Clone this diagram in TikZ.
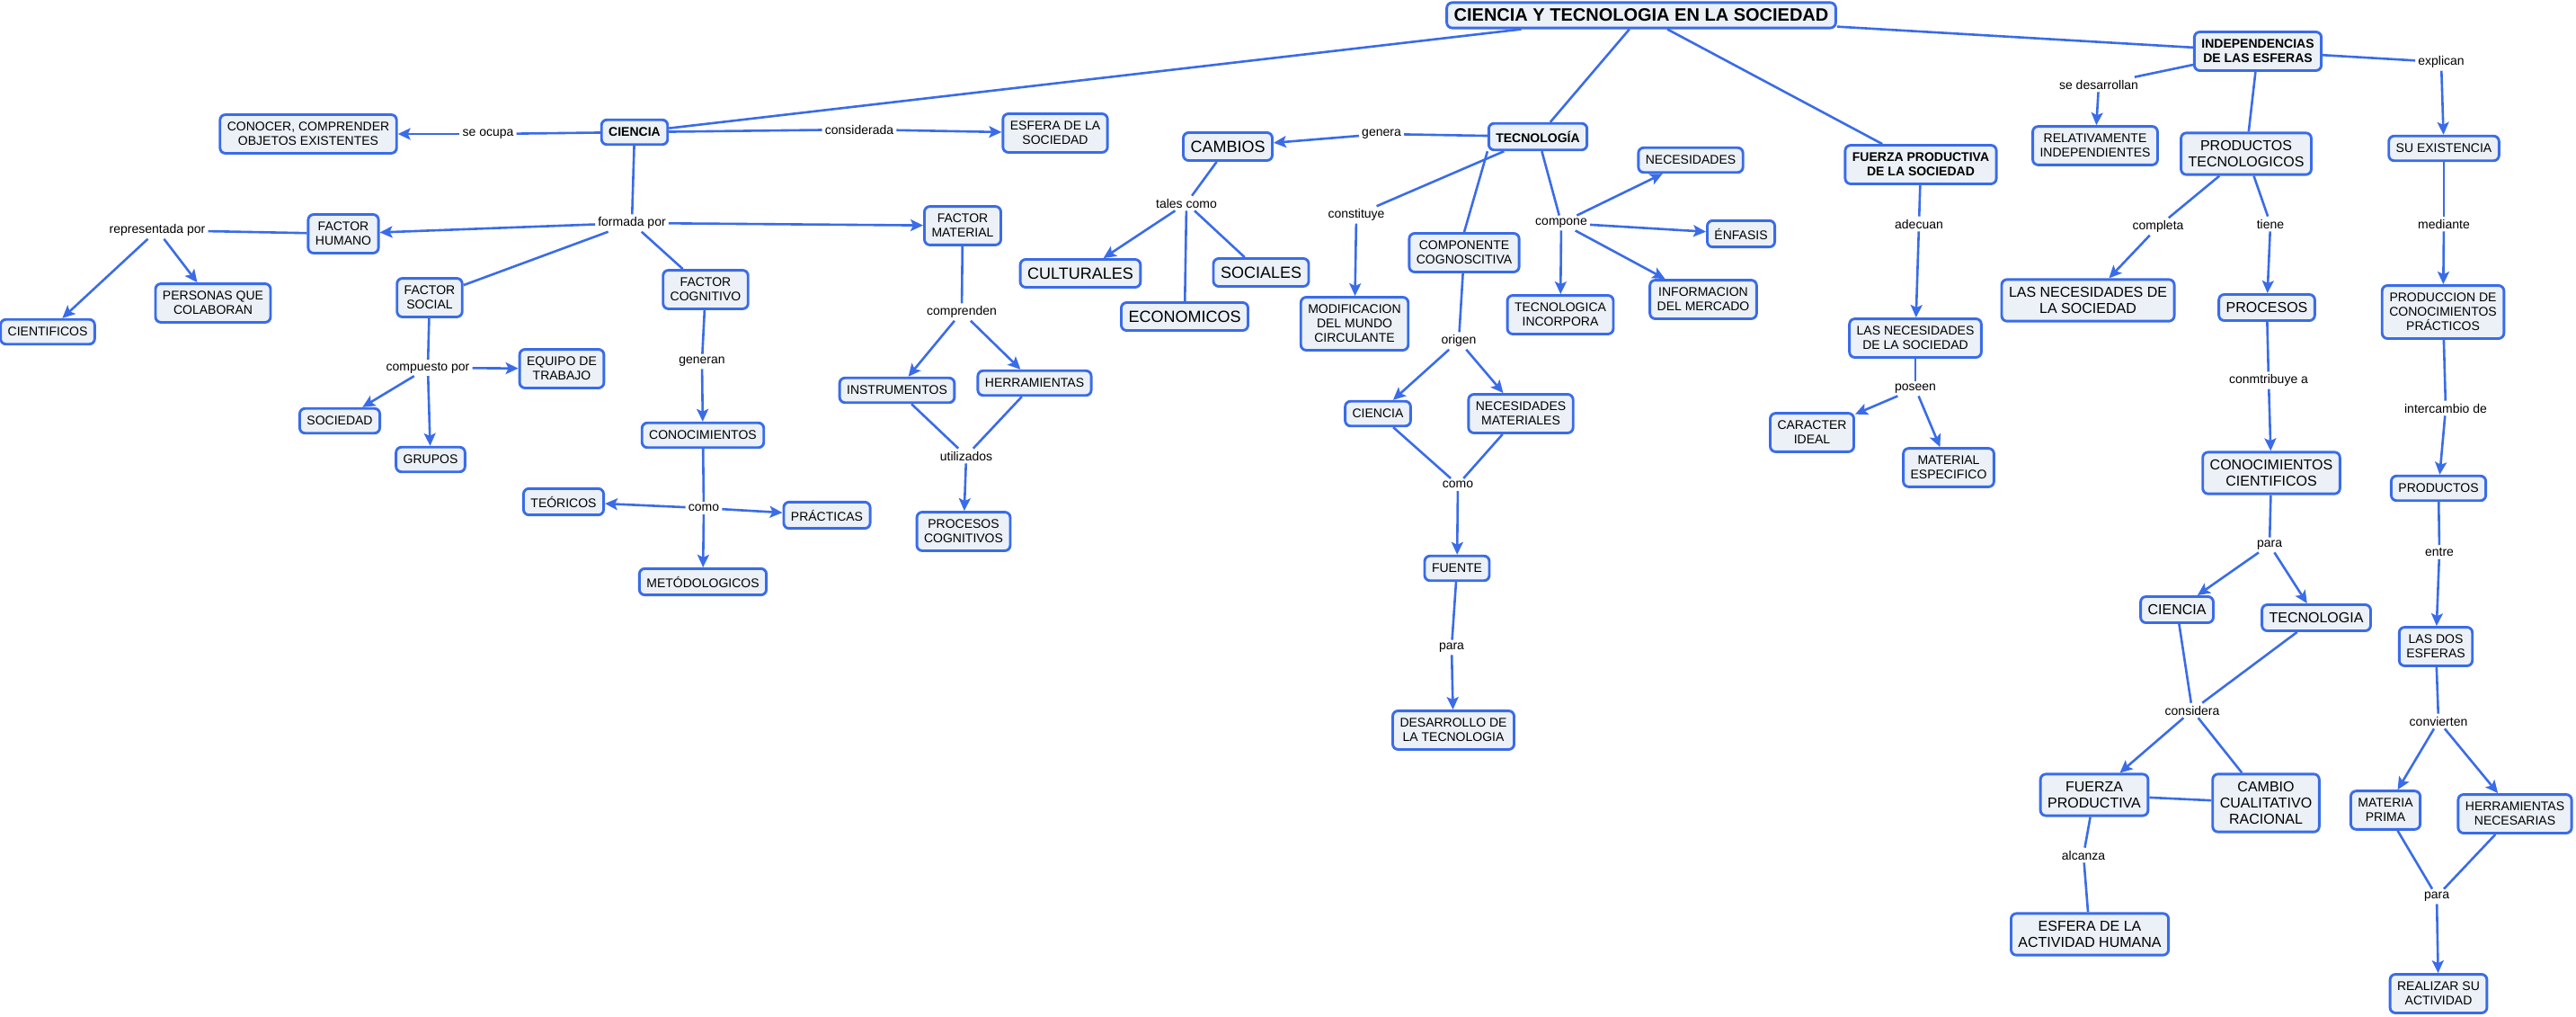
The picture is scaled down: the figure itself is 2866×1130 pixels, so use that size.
\documentclass[tikz,border=0pt]{standalone}
\usepackage{fontspec}
\setmainfont{Liberation Sans}
\usetikzlibrary{arrows.meta}
\definecolor{mapblue}{HTML}{3A6CE8}
\definecolor{mapfill}{HTML}{EBF1F7}
\newcommand{\fsmall}{\fontsize{14}{16}\selectfont}
\newcommand{\fmed}{\fontsize{16}{18}\selectfont}
\newcommand{\fbig}{\fontsize{18}{20}\selectfont}
\newcommand{\ftitle}{\bfseries\fontsize{20}{22}\selectfont}
\tikzset{
  concept-box/.style={draw=mapblue, fill=mapfill, line width=2.9pt, rounded corners=6pt,
    align=center, inner xsep=8pt, inner ysep=8.5pt, minimum height=27.5pt, font=\fsmall},
  med-box/.style={concept-box, font=\fmed, minimum height=29pt},
  big-box/.style={concept-box, font=\fbig, minimum height=31pt},
  key-box/.style={concept-box, font=\fsmall\bfseries},
  link-phrase/.style={font=\fsmall, inner sep=3pt},
  link-line/.style={draw=mapblue, line width=2.6pt},
}
\begin{document}
\begin{tikzpicture}[x=1pt, y=-1pt, >={Stealth[length=14pt,width=13pt,inset=3pt]}]
        \useasboundingbox (0,0) rectangle (2866,1130);
        % the main title
        \draw (1826,17) node[concept-box, font=\ftitle, inner ysep=7pt] (titulo) {CIENCIA Y TECNOLOGIA EN LA SOCIEDAD};

        % the ciencia branch
        \draw (706,147) node[key-box] (ciencia) {CIENCIA};
        \draw (343,149) node[concept-box] (conocer) {CONOCER, COMPRENDER\\OBJETOS EXISTENTES};
        \draw (1174,148) node[concept-box] (esfera-sociedad) {ESFERA DE LA\\SOCIEDAD};
        \draw (543,149) node[link-phrase] (se-ocupa) {se ocupa};
        \draw (956,144) node[link-phrase] (considerada) {considerada};
        \draw (703,248) node[link-phrase] (formada-por) {formada por};
        \draw (382,260) node[concept-box] (factor-humano) {FACTOR\\HUMANO};
        \draw (478,331) node[concept-box] (factor-social) {FACTOR\\SOCIAL};
        \draw (785,322) node[concept-box] (factor-cognitivo) {FACTOR\\COGNITIVO};
        \draw (1071,251) node[concept-box] (factor-material) {FACTOR\\MATERIAL};
        % the factor humano
        \draw (175,256) node[link-phrase] (representada) {representada por};
        \draw (53,369) node[concept-box] (cientificos) {CIENTIFICOS};
        \draw (237,337) node[concept-box] (personas) {PERSONAS QUE\\COLABORAN};
        % the factor social
        \draw (476,409) node[link-phrase] (compuesto) {compuesto por};
        \draw (625,410) node[concept-box] (equipo) {EQUIPO DE\\TRABAJO};
        \draw (378,468) node[concept-box] (sociedad) {SOCIEDAD};
        \draw (479,511) node[concept-box] (grupos) {GRUPOS};
        % the factor cognitivo
        \draw (781,402) node[link-phrase] (generan) {generan};
        \draw (782,484) node[concept-box] (conocimientos) {CONOCIMIENTOS};
        \draw (783,565) node[link-phrase] (como-a) {como};
        \draw (627,558) node[concept-box] (teoricos) {TEÓRICOS};
        \draw (920,573) node[concept-box] (practicas) {PRÁCTICAS};
        \draw (782,647) node[concept-box] (metodologicos) {METÓDOLOGICOS};
        % the factor material
        \draw (1070,347) node[link-phrase] (comprenden) {comprenden};
        \draw (998,434) node[concept-box] (instrumentos) {INSTRUMENTOS};
        \draw (1151,426) node[concept-box] (herramientas) {HERRAMIENTAS};
        \draw (1075,507) node[link-phrase] (utilizados) {utilizados};
        \draw (1072,591) node[concept-box] (procesos-cog) {PROCESOS\\COGNITIVOS};

        % the tecnologia branch
        \draw (1711,152) node[key-box] (tecnologia) {TECNOLOGÍA};
        \draw (1537,149) node[link-phrase] (genera) {genera};
        \draw (1366,163) node[big-box] (cambios) {CAMBIOS};
        \draw (1320,226) node[link-phrase] (tales-como) {tales como};
        \draw (1202,304) node[big-box] (culturales) {CULTURALES};
        \draw (1403,303) node[big-box] (sociales) {SOCIALES};
        \draw (1318,352) node[big-box] (economicos) {ECONOMICOS};
        \draw (1509,239) node[link-phrase] (constituye) {constituye};
        \draw (1507,360) node[concept-box] (modificacion) {MODIFICACION\\DEL MUNDO\\CIRCULANTE};
        \draw (1629,281) node[concept-box] (componente) {COMPONENTE\\COGNOSCITIVA};
        \draw (1737,248) node[link-phrase] (compone) {compone};
        \draw (1881,178) node[concept-box] (necesidades) {NECESIDADES};
        \draw (1937,260) node[concept-box] (enfasis) {ÉNFASIS};
        \draw (1895,333) node[concept-box] (informacion) {INFORMACION\\DEL MERCADO};
        \draw (1736,350) node[concept-box] (tec-incorpora) {TECNOLOGICA\\INCORPORA};
        % the componente cognoscitiva
        \draw (1623,379) node[link-phrase] (origen) {origen};
        \draw (1533,460) node[concept-box] (ciencia-b) {CIENCIA};
        \draw (1692,460) node[concept-box] (nec-materiales) {NECESIDADES\\MATERIALES};
        \draw (1622,539) node[link-phrase] (como-b) {como};
        \draw (1621,632) node[concept-box] (fuente) {FUENTE};
        \draw (1615,720) node[link-phrase] (para-a) {para};
        \draw (1617,812) node[concept-box] (desarrollo) {DESARROLLO DE\\LA TECNOLOGIA};

        % the fuerza productiva branch
        \draw (2137,183) node[key-box] (fuerza) {FUERZA PRODUCTIVA\\DE LA SOCIEDAD};
        \draw (2135,249) node[link-phrase] (adecuan) {adecuan};
        \draw (2131,376) node[concept-box] (nec-sociedad-a) {LAS NECESIDADES\\DE LA SOCIEDAD};
        \draw (2131,432) node[link-phrase] (poseen) {poseen};
        \draw (2016,481) node[concept-box] (caracter) {CARACTER\\IDEAL};
        \draw (2168,520) node[concept-box] (material) {MATERIAL\\ESPECIFICO};

        % the independencias branch
        \draw (2512,57) node[key-box] (independencias) {INDEPENDENCIAS\\DE LAS ESFERAS};
        \draw (2335,94) node[link-phrase] (desarrollan) {se desarrollan};
        \draw (2331,162) node[concept-box] (relativamente) {RELATIVAMENTE\\INDEPENDIENTES};
        \draw (2499,171) node[med-box] (prod-tecno) {PRODUCTOS\\TECNOLOGICOS};
        \draw (2716,69) node[link-phrase] (explican) {explican};
        \draw (2719,165) node[concept-box] (existencia) {SU EXISTENCIA};
        \draw (2401,252) node[link-phrase] (completa) {completa};
        \draw (2323,334) node[med-box] (nec-sociedad-b) {LAS NECESIDADES DE\\LA SOCIEDAD};
        \draw (2526,249) node[link-phrase] (tiene) {tiene};
        \draw (2522,342) node[med-box] (procesos) {PROCESOS};
        \draw (2524,423) node[link-phrase] (contribuye) {conmtribuye a};
        \draw (2527,526) node[med-box] (con-cientificos) {CONOCIMIENTOS\\CIENTIFICOS};
        \draw (2525,606) node[link-phrase] (para-b) {para};
        \draw (2422,678) node[med-box] (ciencia-c) {CIENCIA};
        \draw (2577,687) node[med-box] (tecnologia-c) {TECNOLOGIA};
        \draw (2439,790) node[link-phrase] (considera) {considera};
        \draw (2330,884) node[med-box] (fuerza-b) {FUERZA\\PRODUCTIVA};
        \draw (2521,893) node[med-box] (cambio) {CAMBIO\\CUALITATIVO\\RACIONAL};
        \draw (2318,951) node[link-phrase] (alcanza) {alcanza};
        \draw (2325,1039) node[med-box] (esfera-actividad) {ESFERA DE LA\\ACTIVIDAD HUMANA};
        % the su existencia column
        \draw (2719,249) node[link-phrase] (mediante) {mediante};
        \draw (2718,347) node[concept-box] (produccion) {PRODUCCION DE\\CONOCIMIENTOS\\PRÁCTICOS};
        \draw (2721,454) node[link-phrase] (intercambio) {intercambio de};
        \draw (2713,543) node[concept-box] (productos) {PRODUCTOS};
        \draw (2714,614) node[link-phrase] (entre) {entre};
        \draw (2710,719) node[concept-box] (dos-esferas) {LAS DOS\\ESFERAS};
        \draw (2713,802) node[link-phrase] (convierten) {convierten};
        \draw (2654,901) node[concept-box] (materia) {MATERIA\\PRIMA};
        \draw (2798,905) node[concept-box] (herramientas-b) {HERRAMIENTAS\\NECESARIAS};
        \draw (2711,997) node[link-phrase] (para-c) {para};
        \draw (2713,1105) node[concept-box] (realizar) {REALIZAR SU\\ACTIVIDAD};

        % links from the title
        \draw [link-line] (titulo) -- (ciencia);
        \draw [link-line] (titulo) -- (tecnologia);
        \draw [link-line] (titulo) -- (fuerza);
        \draw [link-line] (titulo) -- (independencias);

        % links of the ciencia branch
        \draw [link-line] (ciencia) -- (se-ocupa);
        \draw [link-line,->] (se-ocupa) -- (conocer);
        \draw [link-line] (ciencia) -- (considerada);
        \draw [link-line,->] (considerada) -- (esfera-sociedad);
        \draw [link-line] (ciencia) -- (formada-por);
        \draw [link-line,->] (formada-por) -- (factor-humano);
        \draw [link-line,->] (formada-por) -- (factor-material);
        \draw [link-line] (formada-por) -- (factor-social);
        \draw [link-line] (formada-por) -- (factor-cognitivo);
        \draw [link-line] (factor-humano) -- (representada);
        \draw [link-line,->] (representada) -- (cientificos);
        \draw [link-line,->] (representada) -- (personas);
        \draw [link-line] (factor-social) -- (compuesto);
        \draw [link-line,->] (compuesto) -- (equipo);
        \draw [link-line,->] (compuesto) -- (sociedad);
        \draw [link-line,->] (compuesto) -- (grupos);
        \draw [link-line] (factor-cognitivo) -- (generan);
        \draw [link-line,->] (generan) -- (conocimientos);
        \draw [link-line] (conocimientos) -- (como-a);
        \draw [link-line,->] (como-a) -- (teoricos);
        \draw [link-line,->] (como-a) -- (practicas);
        \draw [link-line,->] (como-a) -- (metodologicos);
        \draw [link-line] (factor-material) -- (comprenden);
        \draw [link-line,->] (comprenden) -- (instrumentos);
        \draw [link-line,->] (comprenden) -- (herramientas);
        \draw [link-line] (instrumentos) -- (utilizados);
        \draw [link-line] (herramientas) -- (utilizados);
        \draw [link-line,->] (utilizados) -- (procesos-cog);

        % links of the tecnologia branch
        \draw [link-line] (tecnologia) -- (genera);
        \draw [link-line,->] (genera) -- (cambios);
        \draw [link-line] (cambios) -- (tales-como);
        \draw [link-line,->] (tales-como) -- (culturales);
        \draw [link-line] (tales-como) -- (economicos);
        \draw [link-line] (tales-como) -- (sociales);
        \draw [link-line] (tecnologia) -- (constituye);
        \draw [link-line,->] (constituye) -- (modificacion);
        \draw [link-line] (tecnologia.south west) -- (componente.north);
        \draw [link-line] (tecnologia) -- (compone);
        \draw [link-line,->] (compone) -- (necesidades);
        \draw [link-line,->] (compone) -- (enfasis);
        \draw [link-line,->] (compone) -- (informacion);
        \draw [link-line,->] (compone) -- (tec-incorpora);
        \draw [link-line] (componente) -- (origen);
        \draw [link-line,->] (origen) -- (ciencia-b);
        \draw [link-line,->] (origen) -- (nec-materiales);
        \draw [link-line] (ciencia-b) -- (como-b);
        \draw [link-line] (nec-materiales) -- (como-b);
        \draw [link-line,->] (como-b) -- (fuente);
        \draw [link-line] (fuente) -- (para-a);
        \draw [link-line,->] (para-a) -- (desarrollo);

        % links of the fuerza productiva branch
        \draw [link-line] (fuerza) -- (adecuan);
        \draw [link-line,->] (adecuan) -- (nec-sociedad-a);
        \draw [link-line] (nec-sociedad-a) -- (poseen);
        \draw [link-line,->] (poseen) -- (caracter);
        \draw [link-line,->] (poseen) -- (material);

        % links of the independencias branch
        \draw [link-line] (independencias) -- (desarrollan);
        \draw [link-line,->] (desarrollan) -- (relativamente);
        \draw [link-line] (independencias) -- (prod-tecno);
        \draw [link-line] (independencias) -- (explican);
        \draw [link-line,->] (explican) -- (existencia);
        \draw [link-line] (prod-tecno) -- (completa);
        \draw [link-line,->] (completa) -- (nec-sociedad-b);
        \draw [link-line] (prod-tecno) -- (tiene);
        \draw [link-line,->] (tiene) -- (procesos);
        \draw [link-line] (procesos) -- (contribuye);
        \draw [link-line,->] (contribuye) -- (con-cientificos);
        \draw [link-line] (con-cientificos) -- (para-b);
        \draw [link-line,->] (para-b) -- (ciencia-c);
        \draw [link-line,->] (para-b) -- (tecnologia-c);
        \draw [link-line] (ciencia-c) -- (considera);
        \draw [link-line] (tecnologia-c) -- (considera);
        \draw [link-line,->] (considera) -- (fuerza-b);
        \draw [link-line] (considera) -- (cambio);
        \draw [link-line] (fuerza-b) -- (cambio);
        \draw [link-line] (fuerza-b) -- (alcanza);
        \draw [link-line] (alcanza) -- (esfera-actividad);
        \draw [link-line] (existencia) -- (mediante);
        \draw [link-line,->] (mediante) -- (produccion);
        \draw [link-line] (produccion) -- (intercambio);
        \draw [link-line,->] (intercambio) -- (productos);
        \draw [link-line] (productos) -- (entre);
        \draw [link-line,->] (entre) -- (dos-esferas);
        \draw [link-line] (dos-esferas) -- (convierten);
        \draw [link-line,->] (convierten) -- (materia);
        \draw [link-line,->] (convierten) -- (herramientas-b);
        \draw [link-line] (materia) -- (para-c);
        \draw [link-line] (herramientas-b) -- (para-c);
        \draw [link-line,->] (para-c) -- (realizar);
    \end{tikzpicture}
\end{document}
